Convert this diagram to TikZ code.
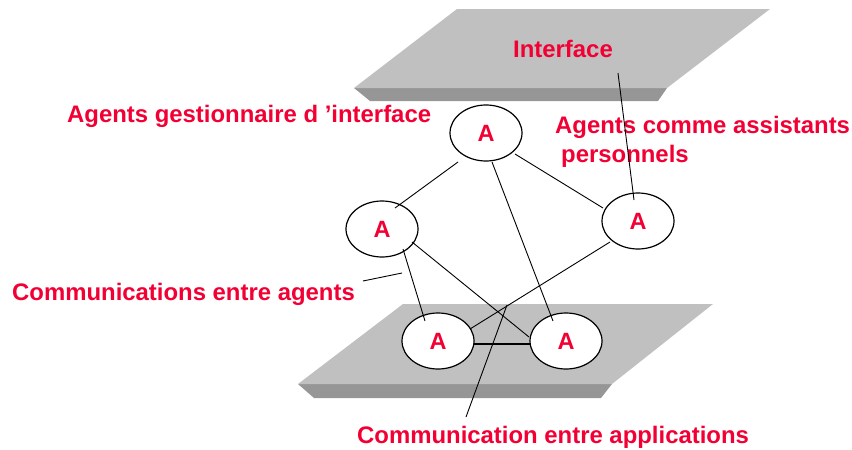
\documentclass[tikz,border=0pt]{standalone}
\usepackage{fontspec}
\setmainfont{Liberation Sans}
\usetikzlibrary{shapes.geometric,calc}
\definecolor{lblred}{RGB}{242,0,52}
\definecolor{platetop}{RGB}{192,192,192}
\definecolor{plateside}{RGB}{150,150,150}
\begin{document}
\begin{tikzpicture}[x=1pt,y=-1pt,
  agent/.style={ellipse,draw=black,line width=1.2pt,fill=white,
    minimum width=72pt,minimum height=56pt,inner sep=0pt,
    font=\fontsize{23.5}{28}\selectfont\bfseries,text=lblred},
  lbl/.style={anchor=base west,inner sep=0pt,
    font=\fontsize{23.9}{29}\selectfont\bfseries,text=lblred},
  link/.style={line width=0.9pt},
  thicklink/.style={line width=2.6pt}]
\useasboundingbox (0,0) rectangle (852,450);
% top plate
\fill[plateside] (354,88) -- (667,88) -- (658,101) -- (370,101) -- cycle;
\fill[platetop] (457,9) -- (770,9) -- (667,88) -- (354,88) -- cycle;
% bottom plate
\fill[plateside] (298,384) -- (612,384) -- (601,398) -- (314,398) -- cycle;
\fill[platetop] (403,304) -- (713,304) -- (612,384) -- (298,384) -- cycle;
% agents
\node[agent] (t)  at (486,133) {A};
\node[agent] (l)  at (382,229) {A};
\node[agent] (r)  at (638,221) {A};
\node[agent] (bl) at (438,341) {A};
\node[agent] (br) at (566,341) {A};
% labels
\node[lbl] (intf) at (513,57) {Interface};
\node[lbl] (agi) at (67,122) {Agents gestionnaire d ’interface};
\node[lbl] (aca) at (555,133) {Agents comme assistants};
\node[lbl] (acp) at (561,162) {personnels};
\node[lbl] (cag) at (12,300) {Communications entre agents};
\node[lbl] (cap) at (357,443) {Communication entre applications};
% free ends
\coordinate (intfpt) at (618,73);
\coordinate (capt) at (466,417);
\coordinate (capx) at (507,305);
\coordinate (cagl) at (363,281);
\coordinate (cagr) at (402,273);
% links
\draw[link] ($(t)+(-28,29)$) -- ($(l)+(13,-21)$);
\draw[link] ($(t)+(29,21)$) -- ($(r)+(-35,-13)$);
\draw[link] ($(t)+(6,29)$) -- ($(br)+(-13,-20)$);
\draw[link] ($(l)+(21,20)$) -- ($(bl)+(-13,-20)$);
\draw[link] ($(l)+(30,13)$) -- ($(br)+(-37,-4)$);
\draw[link] ($(r)+(-28,21)$) -- ($(bl)+(32,-12)$);
\draw[thicklink] ($(bl)+(36,3)$) -- ($(br)+(-36,3)$);
\draw[link] (intfpt) -- ($(r)+(-4,-21)$);
\draw[link] (capt) -- (capx);
\draw[link] (cagl) -- (cagr);
\end{tikzpicture}
\end{document}
